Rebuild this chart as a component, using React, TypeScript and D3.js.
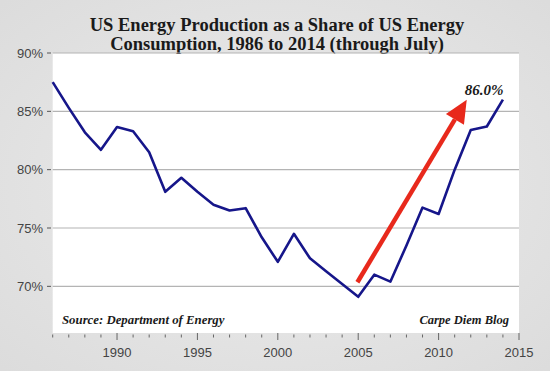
import React from 'react';
import * as d3 from 'd3';

// US energy production as share of consumption (%)
const years = [1986, 1987, 1988, 1989, 1990, 1991, 1992, 1993, 1994, 1995, 1996, 1997, 1998, 1999, 2000,
  2001, 2002, 2003, 2004, 2005, 2006, 2007, 2008, 2009, 2010, 2011, 2012, 2013, 2014];
const share = [87.5, 85.3, 83.2, 81.7, 83.65, 83.3, 81.5, 78.1, 79.3, 78.1, 77.0, 76.5, 76.7, 74.2, 72.1,
  74.5, 72.4, 71.3, 70.2, 69.1, 71.0, 70.4, 73.5, 76.75, 76.2, 80.0, 83.4, 83.7, 86.0];

const yTicks = [70, 75, 80, 85, 90];
const xTicks = [1990, 1995, 2000, 2005, 2010, 2015];
const minorYears = d3.range(1986, 2016);

// arrow: start / tip in data units
const arrowFrom = [2004.95, 70.35];
const arrowTo = [2011.75, 86.0];

const W = 550;
const H = 371;
const plot = { left: 52.7, right: 519, top: 53, bottom: 333 };

const App = () => {
  const x = d3.scaleLinear().domain([1986, 2015]).range([plot.left, plot.right]);
  const y = d3.scaleLinear().domain([66, 90]).range([plot.bottom, plot.top]);

  const line = d3.line<number>()
    .x((_, i) => x(years[i]))
    .y((d) => y(d));

  const ax0 = x(arrowFrom[0]);
  const ay0 = y(arrowFrom[1]);
  const ax1 = x(arrowTo[0]);
  const ay1 = y(arrowTo[1]);
  const ang = Math.atan2(ay1 - ay0, ax1 - ax0);
  const headLen = 23;
  const headW = 10.5;
  const bx = ax1 - headLen * Math.cos(ang);
  const by = ay1 - headLen * Math.sin(ang);
  const px = -Math.sin(ang);
  const py = Math.cos(ang);
  const head = `M${ax1},${ay1}L${bx + px * headW},${by + py * headW}L${bx - px * headW},${by - py * headW}Z`;

  const serif = '"Liberation Serif", "DejaVu Serif", serif';
  const sans = '"Liberation Sans", Arial, sans-serif';

  return (
    <svg width={W} height={H} style={{ position: 'absolute', left: 0, top: 0 }}>
      <defs>
        <radialGradient id="bg" cx="50%" cy="50%" r="70%">
          <stop offset="0%" stopColor="#ececec" />
          <stop offset="100%" stopColor="#dcdcdc" />
        </radialGradient>
      </defs>
      <rect width={W} height={H} fill="url(#bg)" />
      <rect x={plot.left} y={plot.top} width={plot.right - plot.left} height={plot.bottom - plot.top} fill="#ffffff" />

      <text x={277} y={31} textAnchor="middle" fontFamily={serif} fontWeight="bold" fontSize={18.5} fill="#1a1a1a">
        US Energy Production as a Share of US Energy
      </text>
      <text x={277} y={50} textAnchor="middle" fontFamily={serif} fontWeight="bold" fontSize={18.5} fill="#1a1a1a">
        Consumption, 1986 to 2014 (through July)
      </text>

      {yTicks.map((t) => (
        <g key={t}>
          <line x1={plot.left} x2={plot.right} y1={y(t)} y2={y(t)} stroke="#b4b4b4" strokeWidth={1.2} />
          <line x1={47} x2={51} y1={y(t)} y2={y(t)} stroke="#555" strokeWidth={1} />
          <text x={43} y={y(t) + 4.5} textAnchor="end" fontFamily={sans} fontSize={13} fill="#444">{t}%</text>
        </g>
      ))}

      {minorYears.map((yr) => {
        const major = yr % 5 === 0;
        return (
          <line key={yr} x1={x(yr)} x2={x(yr)} y1={major ? 333 : 334.5} y2={major ? 340 : 337.5}
            stroke="#666" strokeWidth={1} />
        );
      })}
      {xTicks.map((t) => (
        <text key={t} x={x(t)} y={357} textAnchor="middle" fontFamily={sans} fontSize={13} fill="#444">{t}</text>
      ))}

      <path d={line(share) ?? ''} fill="none" stroke="#16168a" strokeWidth={2.6} strokeLinejoin="round" />

      <line x1={ax0} y1={ay0} x2={bx} y2={by} stroke="#e8291c" strokeWidth={4.5} />
      <path d={head} fill="#e8291c" />

      <text x={484} y={95} textAnchor="middle" fontFamily={serif} fontWeight="bold" fontStyle="italic" fontSize={15} fill="#1a1a1a">
        86.0%
      </text>

      <text x={62} y={324} fontFamily={serif} fontWeight="bold" fontStyle="italic" fontSize={12.8} fill="#1a1a1a">
        Source: Department of Energy
      </text>
      <text x={509} y={324} textAnchor="end" fontFamily={serif} fontWeight="bold" fontStyle="italic" fontSize={12.5} fill="#1a1a1a">
        Carpe Diem Blog
      </text>
    </svg>
  );
};

export default App;
